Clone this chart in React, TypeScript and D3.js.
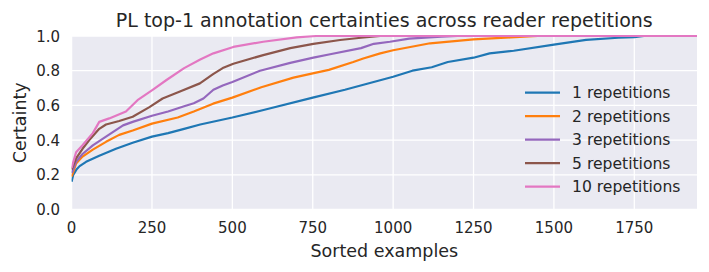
import React, { useRef, useEffect } from "react";
import * as d3 from "d3";

type Pt = [number, number];

// sorted certainty curves, [example index, certainty]
const rep1: Pt[] = [
  [0, 0.16], [5, 0.2], [15, 0.23], [25, 0.25], [45, 0.275], [86, 0.31], [138, 0.35],
  [190, 0.385], [250, 0.42], [300, 0.44], [350, 0.465], [400, 0.49], [500, 0.53],
  [600, 0.575], [750, 0.645], [850, 0.69], [1000, 0.765], [1060, 0.8], [1120, 0.82],
  [1170, 0.85], [1250, 0.875], [1300, 0.9], [1375, 0.915], [1500, 0.95], [1600, 0.978],
  [1700, 0.99], [1750, 0.993], [1780, 1.0], [1945, 1.0],
];
const rep2: Pt[] = [
  [0, 0.19], [14, 0.265], [34, 0.305], [66, 0.345], [107, 0.39], [148, 0.43], [190, 0.455],
  [250, 0.495], [330, 0.53], [380, 0.565], [440, 0.61], [500, 0.645], [590, 0.705],
  [690, 0.76], [750, 0.785], [800, 0.805], [876, 0.85], [907, 0.87], [960, 0.9],
  [1000, 0.918], [1115, 0.958], [1250, 0.98], [1365, 0.992], [1450, 1.0], [1945, 1.0],
];
const rep3: Pt[] = [
  [0, 0.21], [14, 0.275], [34, 0.32], [66, 0.37], [107, 0.42], [160, 0.485], [190, 0.505],
  [250, 0.54], [300, 0.565], [350, 0.595], [380, 0.612], [410, 0.64], [441, 0.69],
  [470, 0.715], [500, 0.735], [586, 0.8], [680, 0.845], [752, 0.875], [804, 0.895],
  [900, 0.93], [940, 0.955], [990, 0.967], [1050, 0.985], [1150, 0.996], [1200, 1.0],
  [1945, 1.0],
];
const rep5: Pt[] = [
  [0, 0.23], [14, 0.295], [34, 0.35], [55, 0.4], [86, 0.465], [107, 0.49], [148, 0.51],
  [190, 0.535], [242, 0.59], [283, 0.64], [337, 0.68], [399, 0.727], [440, 0.78],
  [470, 0.815], [503, 0.84], [596, 0.89], [680, 0.93], [752, 0.955], [835, 0.977],
  [900, 0.99], [960, 1.0], [1945, 1.0],
];
const rep10: Pt[] = [
  [0, 0.24], [14, 0.33], [34, 0.37], [66, 0.44], [86, 0.505], [117, 0.525], [169, 0.565],
  [205, 0.63], [252, 0.69], [294, 0.745], [350, 0.815], [400, 0.865], [441, 0.9],
  [503, 0.937], [596, 0.967], [700, 0.992], [760, 1.0], [1945, 1.0],
];

const seriesNames = ["1 repetitions", "2 repetitions", "3 repetitions", "5 repetitions", "10 repetitions"];
const seriesData = [rep1, rep2, rep3, rep5, rep10];
const colors = ["#1f77b4", "#ff7f0e", "#9467bd", "#8c564b", "#e377c2"];
const xTicks = [0, 250, 500, 750, 1000, 1250, 1500, 1750];
const yTicks = [0, 0.2, 0.4, 0.6, 0.8, 1.0];

const W = 709;
const H = 272;
const margin = { left: 71.6, right: 12, top: 36, bottom: 62.5 };

const App: React.FC = () => {
  const svgRef = useRef<SVGSVGElement>(null);

  useEffect(() => {
    if (!svgRef.current) return;
    const svg = d3.select(svgRef.current);
    svg.selectAll("*").remove();

    const x = d3.scaleLinear().domain([0, 1945]).range([margin.left, W - margin.right]);
    const y = d3.scaleLinear().domain([0, 1]).range([H - margin.bottom, margin.top]);
    const font = "'DejaVu Sans', sans-serif";
    const textColor = "#262626";

    // background
    svg
      .append("rect")
      .attr("x", x(0))
      .attr("y", y(1))
      .attr("width", x(1945) - x(0))
      .attr("height", y(0) - y(1))
      .attr("fill", "#eaeaf2");

    // grid
    svg
      .append("g")
      .selectAll("line")
      .data(xTicks)
      .join("line")
      .attr("x1", (d) => x(d))
      .attr("x2", (d) => x(d))
      .attr("y1", y(0))
      .attr("y2", y(1))
      .attr("stroke", "#fff")
      .attr("stroke-width", 1.3);
    svg
      .append("g")
      .selectAll("line")
      .data(yTicks)
      .join("line")
      .attr("x1", x(0))
      .attr("x2", x(1945))
      .attr("y1", (d) => y(d))
      .attr("y2", (d) => y(d))
      .attr("stroke", "#fff")
      .attr("stroke-width", 1.3);

    // tick labels
    svg
      .append("g")
      .selectAll("text")
      .data(xTicks)
      .join("text")
      .attr("x", (d) => x(d))
      .attr("y", y(0) + 23.5)
      .attr("text-anchor", "middle")
      .attr("font-family", font)
      .attr("font-size", 15)
      .attr("fill", textColor)
      .text((d) => String(d));
    svg
      .append("g")
      .selectAll("text")
      .data(yTicks)
      .join("text")
      .attr("x", x(0) - 11.5)
      .attr("y", (d) => y(d) + 5.5)
      .attr("text-anchor", "end")
      .attr("font-family", font)
      .attr("font-size", 15)
      .attr("fill", textColor)
      .text((d) => d.toFixed(1));

    // lines
    const line = d3
      .line<Pt>()
      .x((d) => x(d[0]))
      .y((d) => y(d[1]));
    svg
      .append("clipPath")
      .attr("id", "plotclip")
      .append("rect")
      .attr("x", x(0))
      .attr("y", y(1) - 2)
      .attr("width", x(1945) - x(0))
      .attr("height", y(0) - y(1) + 2);
    svg
      .append("g")
      .attr("clip-path", "url(#plotclip)")
      .selectAll("path")
      .data(seriesData)
      .join("path")
      .attr("d", (d) => line(d) ?? "")
      .attr("fill", "none")
      .attr("stroke", (_, i) => colors[i])
      .attr("stroke-width", 2.2)
      .attr("stroke-linejoin", "round");

    // legend
    const legend = svg.append("g");
    seriesNames.forEach((name, i) => {
      const ly = 92.7 + i * 23.5;
      legend
        .append("line")
        .attr("x1", 525)
        .attr("x2", 560)
        .attr("y1", ly)
        .attr("y2", ly)
        .attr("stroke", colors[i])
        .attr("stroke-width", 2.2);
      legend
        .append("text")
        .attr("x", 572)
        .attr("y", ly + 5.6)
        .attr("font-family", font)
        .attr("font-size", 15.6)
        .attr("fill", textColor)
        .text(name);
    });

    // titles
    svg
      .append("text")
      .attr("x", (x(0) + x(1945)) / 2)
      .attr("y", 26.5)
      .attr("text-anchor", "middle")
      .attr("font-family", font)
      .attr("font-size", 19)
      .attr("fill", textColor)
      .text("PL top-1 annotation certainties across reader repetitions");
    svg
      .append("text")
      .attr("x", (x(0) + x(1945)) / 2)
      .attr("y", 257)
      .attr("text-anchor", "middle")
      .attr("font-family", font)
      .attr("font-size", 17.5)
      .attr("fill", textColor)
      .text("Sorted examples");
    svg
      .append("text")
      .attr("transform", `translate(25.5, ${(y(0) + y(1)) / 2}) rotate(-90)`)
      .attr("text-anchor", "middle")
      .attr("font-family", font)
      .attr("font-size", 17.5)
      .attr("fill", textColor)
      .text("Certainty");
  }, []);

  return (
    <div style={{ position: "absolute", left: 0, top: 0, width: W, height: H, background: "#fff" }}>
      <svg ref={svgRef} width={W} height={H} />
    </div>
  );
};

export default App;
